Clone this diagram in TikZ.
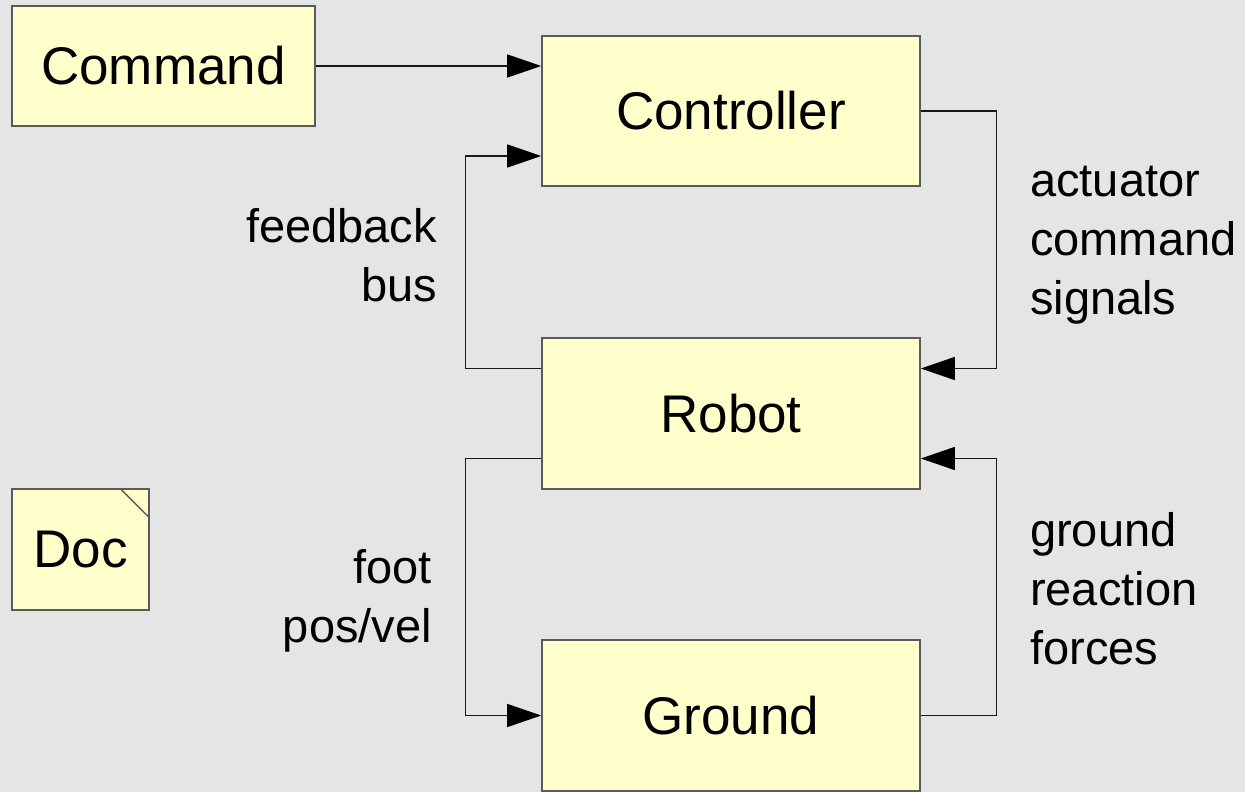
\documentclass[tikz,border=0pt]{standalone}
\usepackage{fontspec}
\setmainfont{Liberation Sans}
\usetikzlibrary{arrows.meta}
\definecolor{bgc}{HTML}{E5E5E5}
\definecolor{boxfill}{HTML}{FFFFCC}
\definecolor{boxline}{HTML}{5A5A5A}
\tikzset{
  blk/.style={draw=boxline, line width=1.6pt, fill=boxfill, inner sep=0pt,
    font=\fontsize{53}{59}\selectfont},
  lbl/.style={inner sep=0pt, font=\fontsize{47}{59}\selectfont},
  arr/.style={draw=black!90, line width=1.3pt, -{Triangle[length=34pt,width=23pt,color=black]}},
}
\begin{document}
\begin{tikzpicture}[x=1pt,y=-1pt]
\fill[bgc] (0,0) rectangle (1245,792);
\useasboundingbox (0,0) rectangle (1245,792);
\node[blk, minimum width=303pt, minimum height=120pt] (command) at (163.5,66) {Command};
\node[blk, minimum width=378pt, minimum height=150pt] (controller) at (731,111) {Controller};
\node[blk, minimum width=378pt, minimum height=151pt] (robot) at (731,413.5) {Robot};
\node[blk, minimum width=378pt, minimum height=151pt] (ground) at (731,715.5) {Ground};
\node[blk, minimum width=137pt, minimum height=121pt] (doc) at (80.5,549.5) {Doc};
\draw[boxline, line width=1.4pt] ([xshift=-30pt]doc.north east) -- ([yshift=-30pt]doc.north east);
\draw[arr] (command.east) -- (command.east -| controller.west);
\draw[arr] ([yshift=45pt]robot.west) -- ++(-76,0) |- ([yshift=-45pt]controller.west);
\draw[arr] (controller.east) -- ++(76,0) |- ([yshift=45pt]robot.east);
\draw[arr] ([yshift=-45pt]robot.west) -- ++(-76,0) |- (ground.west);
\draw[arr] (ground.east) -- ++(76,0) |- ([yshift=-45pt]robot.east);
\node[lbl, align=right, anchor=east] (fb) at (437,255) {feedback\\bus};
\node[lbl, align=left, anchor=west] (ac) at (1030,245) {actuator\\command\\signals};
\node[lbl, align=right, anchor=east] (fp) at (432,601) {foot\\pos/vel};
\node[lbl, align=left, anchor=west] (gr) at (1030,589) {ground\\reaction\\forces};
\end{tikzpicture}
\end{document}
